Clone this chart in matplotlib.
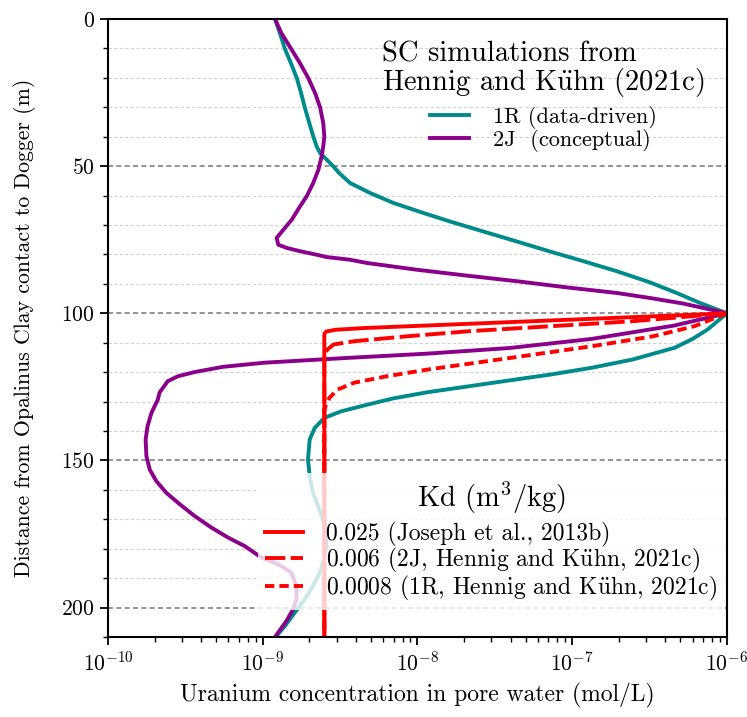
import matplotlib.pyplot as plt
from matplotlib.ticker import MultipleLocator

plt.rcParams["font.family"] = "serif"
plt.rcParams["font.serif"] = ["cmr10"]
plt.rcParams["mathtext.fontset"] = "cm"
plt.rcParams["axes.formatter.use_mathtext"] = True

# SC simulation 1R (data-driven)
depth_1r = [0, 4.8, 10.1, 15.0, 20.1, 25.2, 30.1, 35.4, 39.9, 43.3, 45.6, 47.8,
            50.1, 52.3, 55.7, 59.1, 62.5, 65.9, 68.8, 72.2, 75.6, 79.0, 82.3, 85.7,
            89.5, 93.1, 96.5, 100,
            105.5, 108.7, 111.7, 115.7, 118.5, 120.8, 122.8, 124.8, 126.8, 128.9,
            131.0, 133.3, 135.5, 138.9, 142.9, 149.7, 155.3, 161.0, 165.5, 170.0,
            174.5, 179.1, 183.6, 188.1, 192.7, 197.2, 201.7, 206.3, 210]
conc_1r = [1.20e-9, 1.29e-9, 1.39e-9, 1.52e-9, 1.66e-9, 1.77e-9, 1.87e-9, 2.00e-9,
           2.12e-9, 2.23e-9, 2.35e-9, 2.59e-9, 2.86e-9, 3.11e-9, 3.66e-9, 4.93e-9,
           6.98e-9, 1.09e-8, 1.62e-8, 2.66e-8, 4.38e-8, 7.18e-8, 1.18e-7, 1.94e-7,
           3.18e-7, 4.73e-7, 6.70e-7, 1e-6,
           7.5e-7, 6.0e-7, 4.6e-7, 2.46e-7, 1.34e-7, 7.27e-8, 3.94e-8, 2.15e-8,
           1.17e-8, 7.0e-9, 4.79e-9, 3.22e-9, 2.51e-9, 2.17e-9, 2.01e-9, 1.96e-9,
           2.01e-9, 2.11e-9, 2.28e-9, 2.45e-9, 2.57e-9, 2.57e-9, 2.49e-9, 2.34e-9,
           2.11e-9, 1.87e-9, 1.61e-9, 1.39e-9, 1.21e-9]

# SC simulation 2J (conceptual)
depth_2j = [0, 4.8, 10.5, 15.0, 20.1, 25.2, 30.1, 35.4, 39.9, 43.3, 46.7, 51.2,
            55.7, 60.3, 63.7, 68.2, 71.6, 74.4, 76.7, 77.8, 78.9, 80.1, 80.9, 81.8,
            82.9, 85.2, 87.2, 89.1, 91.2, 93.1, 94.8, 96.7, 98.7, 100,
            104.2, 108.7, 111.8, 113.7, 115.2, 116.8, 118.2, 120.0, 121.4, 123.1,
            127.0, 129.3, 133.8, 138.4, 142.9, 148.5, 153.1, 157.0, 161.0, 164.9,
            168.9, 172.8, 176.2, 179.1, 183.0, 185.3, 188.1, 192.7, 197.2, 200.6,
            204.6, 210]
conc_2j = [1.20e-9, 1.32e-9, 1.54e-9, 1.74e-9, 1.97e-9, 2.18e-9, 2.35e-9, 2.46e-9,
           2.50e-9, 2.46e-9, 2.40e-9, 2.29e-9, 2.12e-9, 1.92e-9, 1.74e-9, 1.54e-9,
           1.36e-9, 1.23e-9, 1.26e-9, 1.43e-9, 1.74e-9, 2.23e-9, 2.59e-9, 3.66e-9,
           4.70e-9, 9.89e-9, 2.08e-8, 4.38e-8, 9.21e-8, 1.94e-7, 3.18e-7, 5.22e-7,
           7.76e-7, 1e-6,
           4.53e-7, 1.34e-7, 3.94e-8, 1.17e-8, 3.44e-9, 1.02e-9, 5.53e-10, 3.61e-10,
           2.83e-10, 2.43e-10, 2.15e-10, 2.10e-10, 1.91e-10, 1.80e-10, 1.75e-10,
           1.77e-10, 1.86e-10, 2.05e-10, 2.38e-10, 2.91e-10, 3.63e-10, 4.65e-10,
           5.96e-10, 7.64e-10, 9.79e-10, 1.26e-9, 1.53e-9, 1.65e-9, 1.65e-9,
           1.57e-9, 1.42e-9, 1.20e-9]

# Kd profiles (m3/kg)
depth_kd025 = [100, 102, 104, 105, 105.6, 106.2, 107, 210]
conc_kd025 = [1e-6, 1.17e-7, 1.36e-8, 4.6e-9, 2.95e-9, 2.57e-9, 2.5e-9, 2.5e-9]

depth_kd006 = [100, 102.7, 104.4, 106.1, 107.8, 109.5, 110.6, 112.3, 114, 210]
conc_kd006 = [1e-6, 2.46e-7, 7.27e-8, 2.15e-8, 8.61e-9, 3.89e-9, 2.87e-9, 2.62e-9,
              2.5e-9, 2.5e-9]

depth_kd0008 = [100, 104.4, 107.8, 111.2, 115.2, 119.1, 121.4, 123.6, 125.9, 128.7,
                131.6, 133, 210]
conc_kd0008 = [1e-6, 6.15e-7, 3.34e-7, 1.34e-7, 3.94e-8, 1.17e-8, 6.34e-9, 3.89e-9,
               3.05e-9, 2.70e-9, 2.54e-9, 2.5e-9, 2.5e-9]

x_ticks = [1e-10, 1e-9, 1e-8, 1e-7, 1e-6]

teal = "#008b8b"
purple = "#8b008b"
lw = 2.8

fig = plt.figure(figsize=(7.47, 7.17), dpi=100)
ax = fig.add_axes([0.1446, 0.1116, 0.8286, 0.8619])

l1, = ax.plot(conc_1r, depth_1r, color=teal, lw=lw, label="1R (data-driven)")
l2, = ax.plot(conc_2j, depth_2j, color=purple, lw=lw, label="2J  (conceptual)")
r3, = ax.plot(conc_kd0008, depth_kd0008, color="red", lw=lw, ls=(0, (2.4, 1.3)),
              label="0.0008 (1R, Hennig and K$\\ddot{\\mathrm{u}}$hn, 2021c)")
r2, = ax.plot(conc_kd006, depth_kd006, color="red", lw=lw, ls=(0, (5.2, 1.4)),
              label="0.006 (2J, Hennig and K$\\ddot{\\mathrm{u}}$hn, 2021c)")
r1, = ax.plot(conc_kd025, depth_kd025, color="red", lw=lw,
              label="0.025 (Joseph et al., 2013b)")

ax.set_xscale("log")
ax.set_xticks(x_ticks)
ax.set_xlim(1e-10, 1e-6)
ax.set_ylim(210, 0)
ax.yaxis.set_major_locator(MultipleLocator(50))
ax.yaxis.set_minor_locator(MultipleLocator(10))
ax.grid(axis="y", which="major", color="gray", ls=(0, (3, 2)), lw=1.2)
ax.grid(axis="y", which="minor", color="lightgray", ls=(0, (3, 2)), lw=0.8)
ax.set_axisbelow(True)

for s in ax.spines.values():
    s.set_linewidth(1.5)
ax.tick_params(which="major", length=6, width=1.3, labelsize=15.5)
ax.tick_params(which="minor", length=3.5, width=1.0)

ax.set_xlabel("Uranium concentration in pore water (mol/L)", fontsize=17,
              labelpad=6)
ax.set_ylabel("Distance from Opalinus Clay contact to Dogger (m)", fontsize=15.7,
              labelpad=18)

leg1 = ax.legend(handles=[l1, l2], loc="upper right", fontsize=16,
                 title="SC simulations from\nHennig and K$\\ddot{\\mathrm{u}}$hn (2021c)",
                 title_fontsize=20.5, frameon=False, handlelength=1.75,
                 handletextpad=1.1, borderaxespad=0.6, labelspacing=0.0)
leg1.get_title().set_linespacing(0.95)
leg1._legend_box.sep = 4.5  # gap between title and entries
ax.add_artist(leg1)

leg2 = ax.legend(handles=[r1, r2, r3], loc="lower right", fontsize=17,
                 title="Kd (m$^3$/kg)", title_fontsize=20.5, framealpha=0.8,
                 edgecolor="none", fancybox=False, handlelength=1.6,
                 handletextpad=1.0, borderaxespad=0.1, labelspacing=-0.05,
                 borderpad=0.3, bbox_to_anchor=(1.0, 0.04))
leg2._legend_box.sep = 4.5

fig.savefig("out.png", dpi=100)
